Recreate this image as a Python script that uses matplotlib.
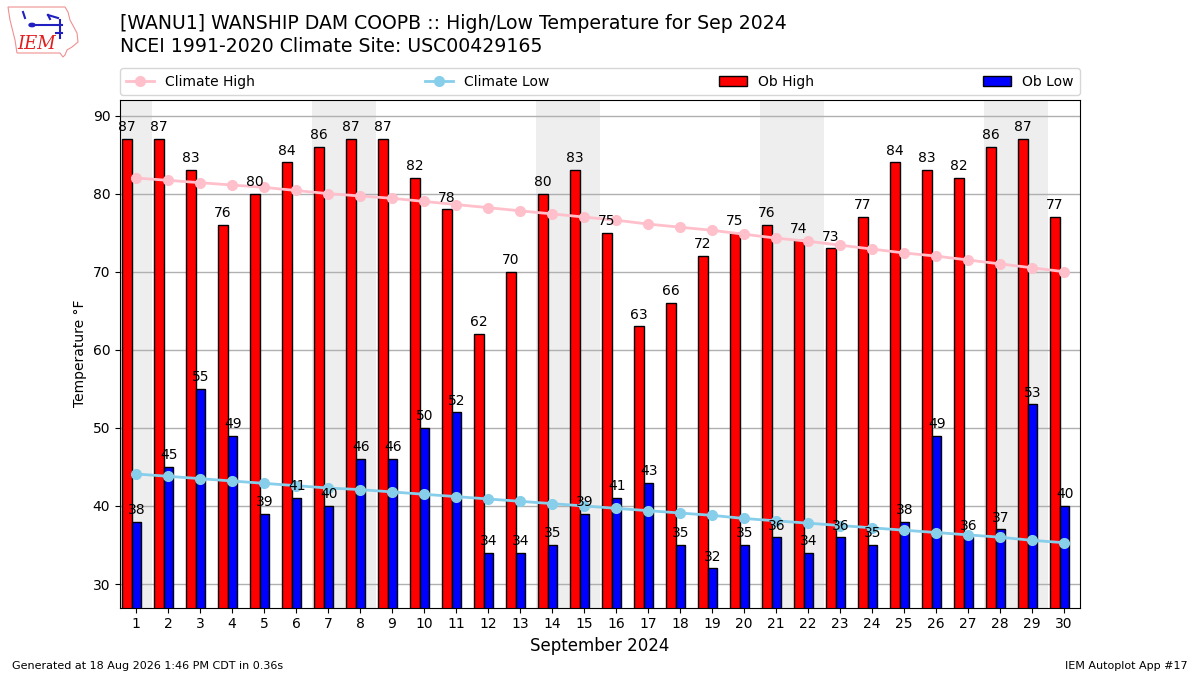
import matplotlib
matplotlib.use("Agg")
import matplotlib.pyplot as plt
from matplotlib.patches import Polygon, Circle
from matplotlib.lines import Line2D
import numpy as np

days = list(range(1, 31))
ob_high = [87, 87, 83, 76, 80, 84, 86, 87, 87, 82, 78, 62, 70, 80, 83,
           75, 63, 66, 72, 75, 76, 74, 73, 77, 84, 83, 82, 86, 87, 77]
ob_low = [38, 45, 55, 49, 39, 41, 40, 46, 46, 50, 52, 34, 34, 35, 39,
          41, 43, 35, 32, 35, 36, 34, 36, 35, 38, 49, 36, 37, 53, 40]
clim_high = [82.0, 81.7, 81.4, 81.1, 80.8, 80.4, 80.0, 79.7, 79.4, 79.0,
             78.6, 78.2, 77.8, 77.4, 77.0, 76.6, 76.1, 75.7, 75.3, 74.8,
             74.3, 73.9, 73.4, 72.9, 72.4, 72.0, 71.5, 71.0, 70.5, 70.0]
clim_low = [44.1, 43.8, 43.5, 43.2, 42.9, 42.6, 42.3, 42.1, 41.8, 41.5,
            41.2, 40.9, 40.6, 40.3, 40.0, 39.7, 39.4, 39.1, 38.8, 38.4,
            38.1, 37.8, 37.5, 37.2, 36.9, 36.6, 36.3, 36.0, 35.6, 35.3]
weekend_spans = [(0.5, 1.5), (6.5, 8.5), (13.5, 15.5), (20.5, 22.5), (27.5, 29.5)]

title1 = "[WANU1] WANSHIP DAM COOPB :: High/Low Temperature for Sep 2024"
title2 = "NCEI 1991-2020 Climate Site: USC00429165"

W, H = 1200, 675
fig = plt.figure(figsize=(12, 6.75), dpi=100)
ax = fig.add_axes([0.1, 0.1, 0.8, 0.752])

for a, b in weekend_spans:
    ax.axvspan(a, b, color="#eeeeee", zorder=0, lw=0)

x = np.array(days)
w = 0.3
ax.bar(x - 0.28, ob_high, width=w, color="r", edgecolor="k", lw=1,
       label="Ob High", zorder=2)
ax.bar(x + 0.02, ob_low, width=w, color="b", edgecolor="k", lw=1,
       label="Ob Low", zorder=2)
ax.plot(x, clim_high, color="pink", marker="o", ms=7, lw=2,
        label="Climate High", zorder=3)
ax.plot(x, clim_low, color="skyblue", marker="o", ms=7, lw=2,
        label="Climate Low", zorder=3)

for xi, v in zip(x, ob_high):
    ax.text(xi - 0.28, v + 0.6, f"{v}", ha="center", va="bottom", fontsize=10, zorder=4)
for xi, v in zip(x, ob_low):
    ax.text(xi + 0.02, v + 0.6, f"{v}", ha="center", va="bottom", fontsize=10, zorder=4)

ax.set_xlim(0.5, 30.5)
ax.set_ylim(min(ob_low) - 5, max(ob_high) + 5)
ax.set_xticks(days)
ax.set_xticklabels([str(d) for d in days], fontsize=10)
ax.tick_params(axis="y", labelsize=10)
ax.yaxis.grid(True, color="#b0b0b0", lw=1, zorder=1)
ax.set_axisbelow(True)
ax.set_ylabel("Temperature °F", fontsize=10)
ax.set_xlabel("September 2024", fontsize=12)

handles, labels = ax.get_legend_handles_labels()
order = ["Climate High", "Climate Low", "Ob High", "Ob Low"]
hd = dict(zip(labels, handles))
ax.legend([hd[k] for k in order], order, loc="lower left",
          bbox_to_anchor=(0, 1.01, 1, 0.05), mode="expand", ncol=4,
          fontsize=10, borderaxespad=0, frameon=True, borderpad=0.45)

fig.text(0.1, 1 - 14 / H, title1, fontsize=13.6, va="top", ha="left")
fig.text(0.1, 1 - 37 / H, title2, fontsize=13.6, va="top", ha="left")


# logo approximation (pixel coords -> figure fraction)
def P(px, py):
    return (px / W, 1 - py / H)


iowa_px = [(8, 7), (65, 7), (68, 12), (70, 20), (77, 33), (78, 42), (72, 47),
           (67, 50), (65, 55), (63, 57), (60, 53), (17, 53), (15, 40), (10, 20)]
fig.patches.append(Polygon([P(*p) for p in iowa_px], closed=True, fill=False,
                           edgecolor="#f09090", lw=0.8, transform=fig.transFigure))
for seg in [[(32, 25), (62, 25)], [(60, 20), (60, 38)], [(23, 12), (25, 18)],
            [(48, 15), (58, 18)], [(48, 15), (50, 19)], [(56, 33), (62, 33)]]:
    fig.add_artist(Line2D([P(*p)[0] for p in seg], [P(*p)[1] for p in seg],
                          color="#2020c0", lw=1.5, transform=fig.transFigure))
fig.add_artist(Circle(P(32, 25), 3 / W, color="#2020c0", transform=fig.transFigure))
fig.text(*P(37, 44), "IEM", color="#e02020", fontsize=13, fontstyle="italic",
         family="DejaVu Serif", ha="center", va="center")

fig.text(0.01, 1 - 669 / H, "Generated at 18 Aug 2026 1:46 PM CDT in 0.36s",
         fontsize=8, ha="left", va="baseline")
fig.text(0.99, 1 - 669 / H, "IEM Autoplot App #17", fontsize=8, ha="right",
         va="baseline")

fig.savefig("out.png", dpi=100)
